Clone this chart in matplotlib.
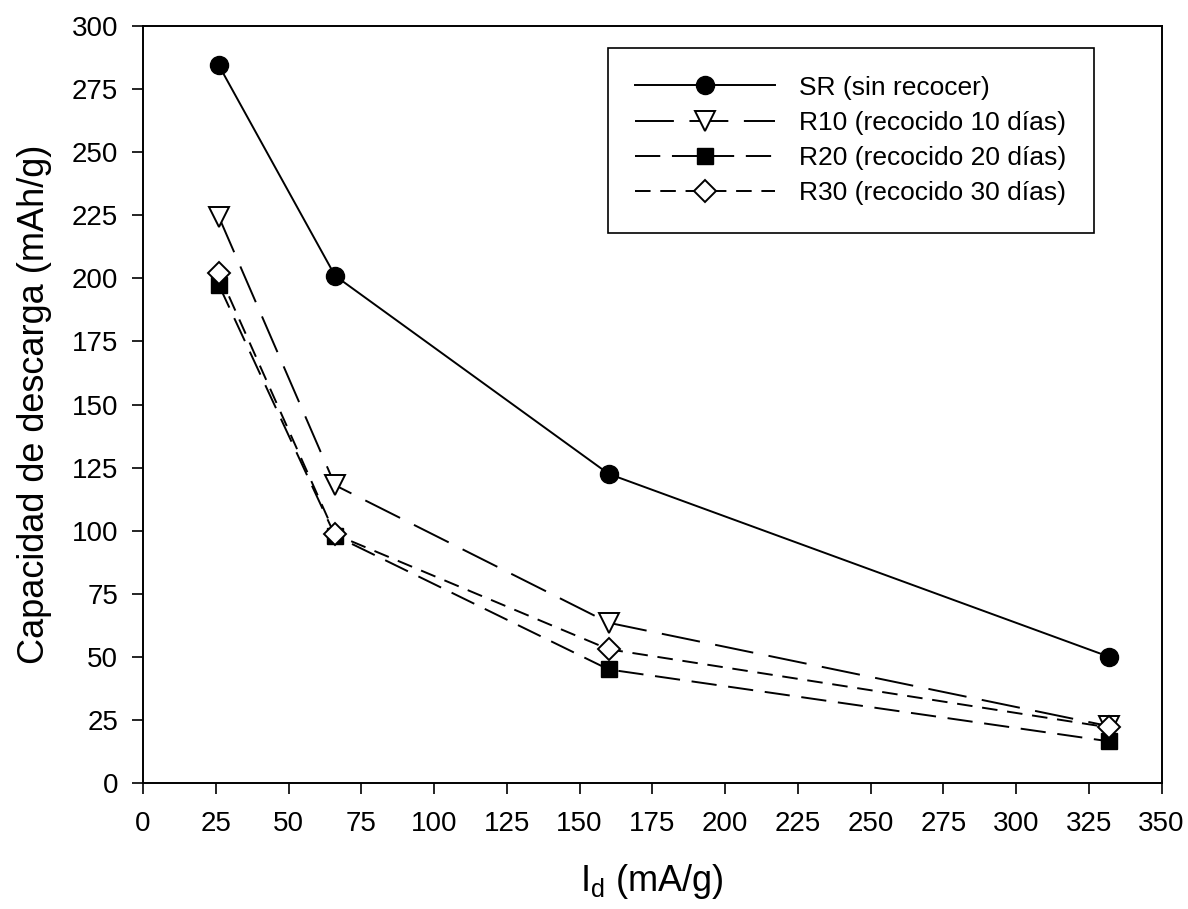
import matplotlib
matplotlib.use("Agg")
import matplotlib.pyplot as plt

plt.rcParams['font.family'] = ['Liberation Sans', 'DejaVu Sans']
plt.rcParams['mathtext.fontset'] = 'custom'
plt.rcParams['mathtext.rm'] = 'Liberation Sans'

# Discharge current density (mA/g)
current = [26, 66, 160, 332]

# Discharge capacity (mAh/g) for each sample
sr = [284.5, 201, 122.5, 50]
r10 = [224.5, 118, 63.5, 22.5]
r20 = [197.5, 98, 45, 16.5]
r30 = [202, 98.5, 53, 22]

labels = ["SR (sin recocer)", "R10 (recocido 10 días)",
          "R20 (recocido 20 días)", "R30 (recocido 30 días)"]

fig = plt.figure(figsize=(11.88, 9.09), dpi=100)
ax = fig.add_axes([0.1204, 0.1386, 0.8574, 0.8328])

lw = 1.4
ms = 13
ax.plot(current, sr, '-', color='black', lw=lw, marker='o', ms=ms,
        mfc='black', mec='black', label=labels[0])
ax.plot(current, r10, color='black', lw=lw, dashes=(20, 8), marker='v', ms=ms + 2,
        mfc='white', mec='black', mew=1.4, label=labels[1])
ax.plot(current, r20, color='black', lw=lw, dashes=(13, 6), marker='s', ms=ms - 1,
        mfc='black', mec='black', label=labels[2])
ax.plot(current, r30, color='black', lw=lw, dashes=(8, 5), marker='D', ms=ms - 2,
        mfc='white', mec='black', mew=1.4, label=labels[3])

ax.set_xlim(0, 350)
ax.set_ylim(0, 300)
ax.set_xticks(range(0, 351, 25))
ax.set_yticks(range(0, 301, 25))

ax.tick_params(direction='out', length=8, width=1.2, labelsize=20)
ax.tick_params(axis='x', pad=12)
ax.tick_params(axis='y', pad=10)
for s in ax.spines.values():
    s.set_linewidth(1.4)

ax.set_xlabel("I$_\\mathregular{d}$ (mA/g)", fontsize=26, labelpad=18)
ax.set_ylabel("Capacidad de descarga (mAh/g)", fontsize=26, labelpad=14)

leg = ax.legend(loc='upper left', bbox_to_anchor=(0.456, 0.971), fontsize=19,
                handlelength=5.3, handletextpad=0.9, labelspacing=0.42,
                borderpad=1.05, borderaxespad=0, fancybox=False,
                edgecolor='black', framealpha=1)
leg.get_frame().set_linewidth(1.2)

fig.savefig("out.png", dpi=100)
